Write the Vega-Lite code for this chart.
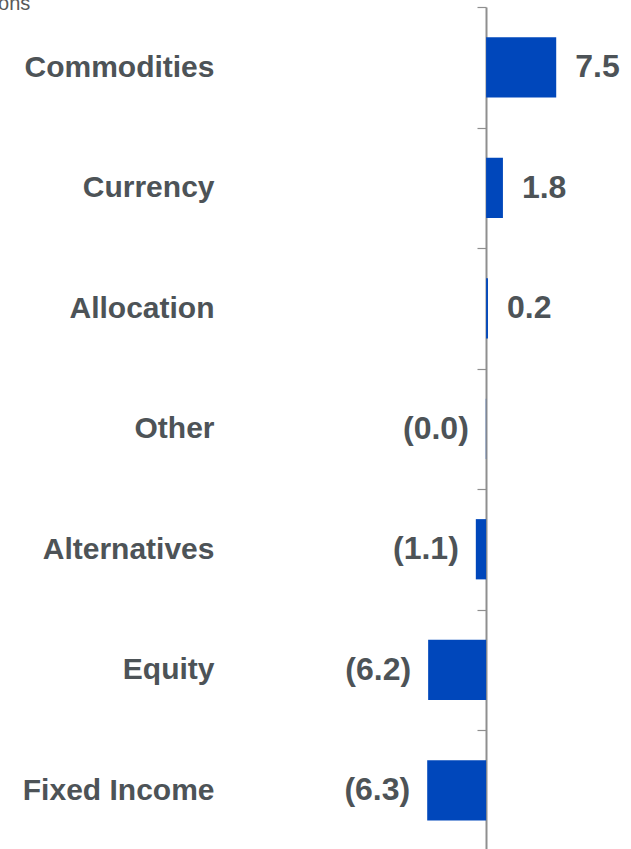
{
  "$schema": "https://vega.github.io/schema/vega-lite/v6.json",
  "width": 631,
  "height": 843.5,
  "autosize": {"type": "none"},
  "padding": {"top": 7, "left": 0, "right": 0, "bottom": 0},
  "title": {
    "text": "Billions",
    "anchor": "start",
    "frame": "group",
    "orient": "top",
    "offset": 0,
    "baseline": "alphabetic",
    "dx": -33,
    "dy": 24,
    "font": "Liberation Sans",
    "fontSize": 20,
    "fontWeight": "normal",
    "color": "#595959"
  },
  "data": {
    "values": [
      {"category": "Commodities", "value": 7.5, "label": "7.5"},
      {"category": "Currency", "value": 1.8, "label": "1.8"},
      {"category": "Allocation", "value": 0.2, "label": "0.2"},
      {"category": "Other", "value": -0.03, "label": "(0.0)"},
      {"category": "Alternatives", "value": -1.1, "label": "(1.1)"},
      {"category": "Equity", "value": -6.2, "label": "(6.2)"},
      {"category": "Fixed Income", "value": -6.3, "label": "(6.3)"}
    ]
  },
  "encoding": {
    "y": {
      "field": "category",
      "type": "nominal",
      "sort": null,
      "scale": {"paddingInner": 0.5, "paddingOuter": 0.25},
      "axis": {
        "orient": "left",
        "offset": -486,
        "title": null,
        "domain": true,
        "domainColor": "#8f8f8f",
        "domainWidth": 2,
        "ticks": true,
        "tickOffset": -60.25,
        "labelOffset": 60.25,
        "tickSize": 9,
        "tickColor": "#8f8f8f",
        "tickWidth": 1.2,
        "labelPadding": 263,
        "labelFont": "Liberation Sans",
        "labelFontSize": 30,
        "labelFontWeight": "bold",
        "labelColor": "#4d5357",
        "labelLimit": 0
      }
    },
    "x": {
      "field": "value",
      "type": "quantitative",
      "scale": {"domain": [-52, 15.5], "nice": false, "zero": false},
      "axis": null
    }
  },
  "layer": [
    {"mark": {"type": "bar", "color": "#0047BB"}},
    {
      "transform": [{"filter": "datum.value >= 0"}],
      "mark": {"type": "text", "align": "left", "baseline": "middle", "dx": 19, "font": "Liberation Sans", "fontSize": 32, "fontWeight": "bold", "color": "#4d5357"},
      "encoding": {"text": {"field": "label"}}
    },
    {
      "transform": [{"filter": "datum.value < 0"}],
      "mark": {"type": "text", "align": "right", "baseline": "middle", "dx": -17, "font": "Liberation Sans", "fontSize": 32, "fontWeight": "bold", "color": "#4d5357"},
      "encoding": {"text": {"field": "label"}}
    }
  ],
  "config": {"view": {"stroke": null}}
}
